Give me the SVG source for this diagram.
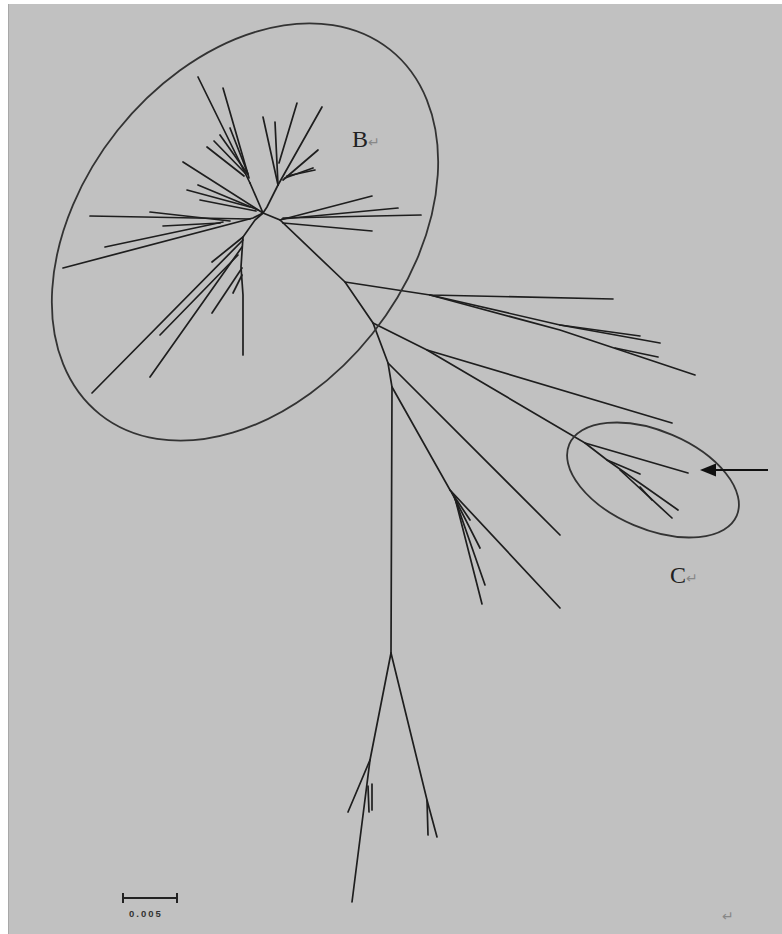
<svg xmlns="http://www.w3.org/2000/svg" width="782" height="934" viewBox="0 0 782 934">
<style>
.br{stroke:#1e1e1e;stroke-width:1.7;fill:none;stroke-linecap:round}
.ov{stroke:#333;stroke-width:1.8;fill:none}
.lb{font-family:"Liberation Serif",serif;font-size:24px;fill:#222}
.rt{font-family:"DejaVu Sans",sans-serif;font-size:14px;fill:#888}
</style>
<rect x="0" y="0" width="782" height="934" fill="#ffffff"/>
<rect x="8" y="4" width="774" height="930" fill="#c1c1c1"/>
<line x1="8.5" y1="4" x2="8.5" y2="934" stroke="#a8a8a8" stroke-width="1"/>

<g id="tree" class="br">
  <!-- trunk -->
  <path d="M263,213 L280,220 L345,282 L373,323 L388,363 L392,387 L391,653"/>
  <!-- upper cluster -->
  <path d="M263,213 L267,207 L278,185"/>
  <path d="M278,185 L263,117"/>
  <path d="M278,185 L275,122"/>
  <path d="M279,163 L297,103"/>
  <path d="M278,185 L322,107"/>
  <path d="M283,180 L318,150"/>
  <path d="M285,178 L313,168"/>
  <path d="M287,176 L315,170"/>
  <!-- upper-left fan -->
  <path d="M263,213 L250,183"/>
  <path d="M250,183 L198,77"/>
  <path d="M249,178 L223,88"/>
  <path d="M248,174 L230,128"/>
  <path d="M247,173 L220,135"/>
  <path d="M246,174 L214,141"/>
  <path d="M244,176 L207,147"/>
  <!-- left -->
  <path d="M263,213 L183,162"/>
  <path d="M258,210 L198,185"/>
  <path d="M250,207 L187,190"/>
  <path d="M256,211 L200,200"/>
  <!-- far left -->
  <path d="M263,213 L253,218 L63,268"/>
  <path d="M250,219 L90,216"/>
  <path d="M230,221 L150,212"/>
  <path d="M223,222 L105,247"/>
  <path d="M220,223 L163,226"/>
  <!-- down-left -->
  <path d="M263,213 L255,220 L243,237 L241,267 L243,295 L243,355"/>
  <path d="M243,237 L212,262"/>
  <path d="M243,240 L92,393"/>
  <path d="M242,247 L150,377"/>
  <path d="M238,255 L160,335"/>
  <path d="M242,268 L212,313"/>
  <path d="M242,275 L233,293"/>
  <!-- right of hub -->
  <path d="M280,220 L372,196"/>
  <path d="M282,219 L398,208"/>
  <path d="M283,218 L421,215"/>
  <path d="M283,223 L372,231"/>
  <!-- from 345,282 -->
  <path d="M345,282 L430,295 L613,299"/>
  <path d="M430,295 L560,325 L660,343"/>
  <path d="M560,325 L640,336"/>
  <path d="M430,295 L560,330 L695,375"/>
  <path d="M615,348 L658,357"/>
  <!-- from 373,323 -->
  <path d="M373,323 L427,350 L672,423"/>
  <path d="M427,350 L585,443 L688,473"/>
  <path d="M585,443 L607,460 L640,474"/>
  <path d="M607,460 L678,510"/>
  <path d="M620,470 L672,518"/>
  <path d="M640,487 L652,500"/>
  <!-- middle branches -->
  <path d="M388,363 L560,535"/>
  <path d="M392,387 L450,490 L560,608"/>
  <path d="M450,490 L470,520"/>
  <path d="M452,493 L480,548"/>
  <path d="M454,496 L485,585"/>
  <path d="M455,498 L482,604"/>
  <!-- bottom -->
  <path d="M391,653 L370,760 L352,902"/>
  <path d="M370,760 L348,812"/>
  <path d="M368,786 L369,812"/>
  <path d="M372,784 L372,810"/>
  <path d="M391,653 L427,800 L437,837"/>
  <path d="M427,800 L428,835"/>
</g>

<g id="cladeB">
  <ellipse class="ov" cx="245" cy="232" rx="233" ry="163" transform="rotate(-51.5 245 232)"/>
  <text class="lb" x="352" y="147">B<tspan class="rt" dx="0">↵</tspan></text>
</g>

<g id="cladeC">
  <ellipse class="ov" cx="653" cy="480" rx="91" ry="49" transform="rotate(23 653 480)"/>
  <text class="lb" x="670" y="583">C<tspan class="rt" dx="0">↵</tspan></text>
</g>

<g id="arrow">
  <line x1="768" y1="470" x2="714" y2="470" stroke="#111" stroke-width="1.8"/>
  <polygon points="700,470 716,463.5 716,476.5" fill="#111"/>
</g>

<g id="scale">
  <line x1="123" y1="898" x2="177" y2="898" stroke="#222" stroke-width="2"/>
  <line x1="123" y1="893" x2="123" y2="903" stroke="#222" stroke-width="2"/>
  <line x1="177" y1="893" x2="177" y2="903" stroke="#222" stroke-width="2"/>
  <text x="129" y="917" font-family="Liberation Sans, sans-serif" font-size="9.5" font-weight="bold" letter-spacing="2" fill="#333">0.005</text>
</g>

<text class="rt" x="722" y="921">↵</text>
</svg>
